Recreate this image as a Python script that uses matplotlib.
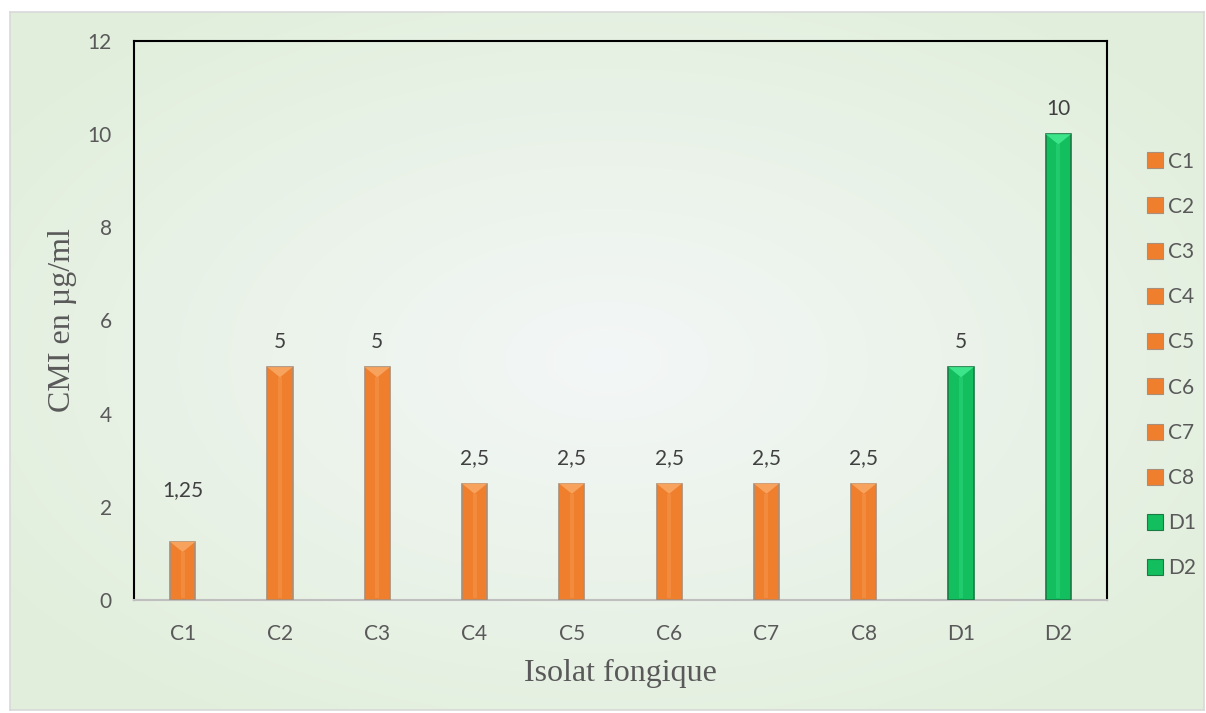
import numpy as np
import matplotlib
matplotlib.use("Agg")
import matplotlib.pyplot as plt
from matplotlib.patches import Rectangle, Polygon
from matplotlib.lines import Line2D

categories = ["C1", "C2", "C3", "C4", "C5", "C6", "C7", "C8", "D1", "D2"]
values = [1.25, 5, 5, 2.5, 2.5, 2.5, 2.5, 2.5, 5, 10]
value_labels = ["1,25", "5", "5", "2,5", "2,5", "2,5", "2,5", "2,5", "5", "10"]
groups = ["C", "C", "C", "C", "C", "C", "C", "C", "D", "D"]
yticks = [0, 2, 4, 6, 8, 10, 12]

colors = {"C": "#F07F2D", "D": "#12BE5E"}
light = {"C": "#F7A35E", "D": "#3DE58A"}
edges = {"C": "#A98E78", "D": "#1B7A44"}

W, H = 1206, 713
fig = plt.figure(figsize=(W / 100, H / 100), dpi=100)
fig.patch.set_facecolor("white")

# background gradient panel
bg = fig.add_axes([10 / W, 1 - 710 / H, (1204 - 10) / W, (710 - 12) / H])
yy, xx = np.mgrid[0:1:200j, 0:1:300j]
r = np.sqrt(((xx - 0.5) / 0.6) ** 2 + ((yy - 0.5) / 0.6) ** 2)
r = np.clip(r, 0, 1)
c0 = np.array([0.955, 0.967, 0.968])
c1 = np.array([0.885, 0.937, 0.865])
img = c0[None, None, :] * (1 - r[..., None]) + c1[None, None, :] * r[..., None]
bg.imshow(img, aspect="auto", extent=[0, 1, 0, 1], interpolation="bicubic")
bg.set_xticks([]); bg.set_yticks([])
for s in bg.spines.values():
    s.set_color("#D9D9D9"); s.set_linewidth(1.2)

ax = fig.add_axes([134 / W, 1 - 600 / H, (1107 - 134) / W, (600 - 41) / H])
ax.patch.set_alpha(0)

x = np.arange(len(categories))
bw = 0.26
for i, (v, g) in enumerate(zip(values, groups)):
    ax.bar(x[i], v, width=bw, color=colors[g], edgecolor=edges[g], linewidth=1.2, zorder=3)
    # bevel highlights
    x0, x1 = x[i] - bw / 2, x[i] + bw / 2
    d = 0.22
    ax.add_patch(Polygon([[x0, v], [x1, v], [x[i], v - d]], closed=True,
                         facecolor=light[g], edgecolor="none", zorder=4))
    ax.add_patch(Rectangle((x[i] - bw * 0.08, 0.05), bw * 0.16, max(v - d - 0.05, 0),
                           facecolor=light[g], alpha=0.35, edgecolor="none", zorder=4))
    off = 37 if value_labels[i] == "1,25" else 18
    ax.annotate(value_labels[i], (x[i], v), xytext=(0, off), textcoords="offset points",
                ha="center", va="center", fontsize=15, color="#404040",
                family="Lato", zorder=5)

ax.set_xlim(-0.5, len(categories) - 0.5)
ax.set_ylim(0, 12)
ax.set_yticks(yticks)
ax.set_yticklabels([str(t) for t in yticks], family="Lato", fontsize=15, color="#595959")
ax.set_xticks(x)
ax.set_xticklabels(categories, family="Lato", fontsize=15, color="#595959")
ax.tick_params(axis="y", length=0, pad=16)
ax.tick_params(axis="x", length=0, pad=17)
for side in ["top", "left", "right"]:
    ax.spines[side].set_color("black"); ax.spines[side].set_linewidth(1.5)
ax.spines["bottom"].set_color("#BFBFBF"); ax.spines["bottom"].set_linewidth(1.5)

yl = ax.set_ylabel("CMI en µg/ml", family="Liberation Serif", fontsize=23, color="#595959")
xl = ax.set_xlabel("Isolat fongique", family="Liberation Serif", fontsize=23, color="#595959")
yl.set_va("center"); xl.set_va("center")
ax.yaxis.set_label_coords((63 - 134) / 973, 0.5)
ax.xaxis.set_label_coords(0.5, -(673 - 600) / 559)

handles = [Line2D([0], [0], marker="s", linestyle="none", markersize=11,
                  markerfacecolor=colors[g], markeredgecolor=edges[g], markeredgewidth=0.8)
           for g in groups]
leg = fig.legend(handles, categories, loc="center left",
                 bbox_to_anchor=(1124 / W, 1 - 365 / H), frameon=False,
                 prop={"family": "Lato", "size": 15}, labelspacing=1.21,
                 handletextpad=0.0, handlelength=1.2)
for t in leg.get_texts():
    t.set_color("#595959")

fig.savefig("out.png", dpi=100)
